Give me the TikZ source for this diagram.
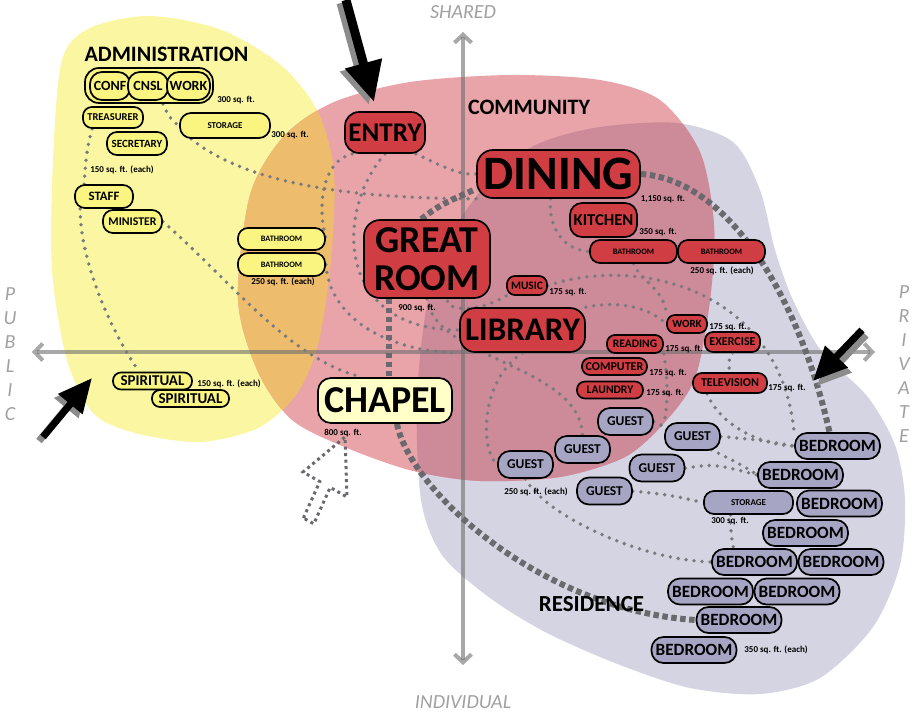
\documentclass[tikz,border=0pt]{standalone}
\usepackage{fontspec}
\setmainfont{Carlito}
\usetikzlibrary{arrows.meta}
\pgfdeclarelayer{bg}\pgfdeclarelayer{mid}\pgfsetlayers{bg,mid,main}
\newcommand\fsz[1]{\fontsize{#1}{#1}\selectfont}
\definecolor{yblob}{RGB}{250,246,162}
\definecolor{pblob}{RGB}{232,164,168}
\definecolor{oblob}{RGB}{237,188,108}
\definecolor{mblob}{RGB}{205,138,153}
\definecolor{gblob}{RGB}{212,212,226}
\definecolor{ynode}{RGB}{250,245,128}
\definecolor{cnode}{RGB}{255,255,200}
\definecolor{rnode}{RGB}{208,62,68}
\definecolor{gnode}{RGB}{166,166,196}
\definecolor{conn}{RGB}{122,122,126}
\definecolor{dconn}{RGB}{105,105,110}
\definecolor{axisc}{RGB}{160,160,160}
\definecolor{axline}{RGB}{110,110,110}
\definecolor{shad}{RGB}{140,140,140}
\newcommand\yelblob{plot[smooth cycle] coordinates {(62,60) (90,28) (150,16) (222,30) (282,66) (318,112) (334,172) (331,260) (318,345) (296,395) (258,428) (200,442) (135,433) (93,413) (67,360) (52,270) (53,160)}}
\newcommand\pinkblob{plot[smooth cycle] coordinates {(250,195) (284,136) (334,102) (410,82) (510,75) (600,80) (660,100) (700,152) (714,225) (710,300) (695,378) (665,422) (625,457) (560,477) (480,481) (413,471) (347,448) (292,420) (258,372) (238,300)}}
\newcommand\grayblob{plot[smooth cycle] coordinates {(497,172) (540,143) (600,127) (677,123) (733,142) (760,190) (775,250) (793,300) (822,352) (867,396) (895,445) (905,500) (900,565) (873,627) (820,678) (760,694) (690,688) (620,665) (547,633) (490,598) (442,555) (421,500) (417,400) (428,300) (455,228)}}
\tikzset{
 box/.style={draw=black, line width=1.7pt, inner sep=0pt, font=\bfseries},
 ybox/.style={box, fill=ynode},
 rbox/.style={box, fill=rnode},
 gbox/.style={box, fill=gnode},
 lbl/.style={inner sep=0pt, font=\bfseries\fsz{9}},
 biglbl/.style={inner sep=0pt, font=\bfseries\fsz{#1}},
 dotc/.style={draw=conn, line width=3.8pt, line cap=round, dash pattern=on 0pt off 8pt},
 dashc/.style={draw=dconn, line width=6pt, dash pattern=on 5.5pt off 3.5pt},
 darr/.style={draw=dconn, line width=3pt, dash pattern=on 3pt off 3.5pt},
 axlbl/.style={inner sep=0pt, text=axisc, font=\itshape\fsz{20}},
 axarrow/.style={draw=axline, opacity=0.6, line width=4pt, {Straight Barb[length=8pt,width=17pt]}-{Straight Barb[length=8pt,width=17pt]}},
}
\begin{document}
\begin{tikzpicture}[x=1pt,y=-1pt]
\useasboundingbox (0,0) rectangle (915,713);
% ---------- blobs ----------
\begin{pgfonlayer}{bg}
\fill[gblob] \grayblob;
\fill[yblob] \yelblob;
\fill[pblob] \pinkblob;
\begin{scope}
\clip \pinkblob;
\fill[oblob] \yelblob;
\fill[mblob] \grayblob;
\end{scope}
\coordinate (axT) at (463,32);
\coordinate (axB) at (463,665);
\coordinate (axL) at (32,352);
\coordinate (axR) at (875,352);
\draw[axarrow] (axB) -- (axT);
\draw[axarrow] (axL) -- (axR);
\end{pgfonlayer}
% ---------- axis labels ----------
\node[axlbl] (shared) at (463,12) {SHARED};
\node[axlbl] (indiv) at (463,702) {INDIVIDUAL};
\node[axlbl, align=center, font=\itshape\fontsize{20}{24}\selectfont] (public) at (10,354) {P\\U\\B\\L\\I\\C};
\node[axlbl, align=center, font=\itshape\fontsize{20}{24}\selectfont] (private) at (904,364) {P\\R\\I\\V\\A\\T\\E};
% ---------- administration ----------
\node[biglbl=22] (admin) at (166.5,54) {ADMINISTRATION};
\node[ybox, minimum width=128, minimum height=35, rounded corners=14] (comp) at (149,85.5) {};
\node[ybox, minimum width=40, minimum height=28, rounded corners=12, font=\bfseries\fsz{14}] (conf) at (110,86) {CONF};
\node[ybox, minimum width=40, minimum height=28, rounded corners=12, font=\bfseries\fsz{14}] (cnsl) at (148,86) {CNSL};
\node[ybox, minimum width=43, minimum height=28, rounded corners=12, font=\bfseries\fsz{14}] (awork) at (188.5,86) {WORK};
\node[ybox, minimum width=60, minimum height=21, rounded corners=9, font=\bfseries\fsz{10.5}] (treas) at (113,117.5) {TREASURER};
\node[ybox, minimum width=60, minimum height=23, rounded corners=10, font=\bfseries\fsz{11}] (secr) at (137,143.5) {SECRETARY};
\node[ybox, minimum width=90, minimum height=25, rounded corners=11, font=\bfseries\fsz{9}] (ystor) at (225,125.5) {STORAGE};
\node[ybox, minimum width=58, minimum height=23, rounded corners=10, font=\bfseries\fsz{12.8}] (staff) at (104,196.5) {STAFF};
\node[ybox, minimum width=59, minimum height=23, rounded corners=10, font=\bfseries\fsz{11.8}] (minis) at (132.5,221.5) {MINISTER};
\node[ybox, minimum width=87, minimum height=22, rounded corners=10, font=\bfseries\fsz{8.3}] (ybath1) at (281.5,239) {BATHROOM};
\node[ybox, minimum width=87, minimum height=23, rounded corners=10, font=\bfseries\fsz{8.3}] (ybath2) at (281.5,264.5) {BATHROOM};
\node[ybox, minimum width=79, minimum height=17, rounded corners=8, font=\bfseries\fsz{15}] (spir1) at (152.5,381) {SPIRITUAL};
\node[ybox, minimum width=77, minimum height=17, rounded corners=8, font=\bfseries\fsz{15}] (spir2) at (190.5,398.5) {SPIRITUAL};
\node[box, fill=cnode, minimum width=134, minimum height=45, rounded corners=13, font=\bfseries\fsz{38}] (chapel) at (385,400.5) {CHAPEL};
% ---------- community ----------
\node[rbox, minimum width=80, minimum height=41, rounded corners=14, font=\bfseries\fsz{27}] (entry) at (385,132.5) {ENTRY};
\node[biglbl=22] (commlbl) at (529,107.5) {COMMUNITY};
\node[rbox, minimum width=163, minimum height=48, rounded corners=16, font=\bfseries\fsz{48}] (dining) at (558.5,174) {DINING};
\node[rbox, minimum width=67, minimum height=34, rounded corners=12, font=\bfseries\fsz{16.6}] (kitchen) at (603.5,220) {KITCHEN};
\node[rbox, minimum width=87, minimum height=23, rounded corners=10, font=\bfseries\fsz{8.3}] (rbath1) at (633.5,251.5) {BATHROOM};
\node[rbox, minimum width=87, minimum height=23, rounded corners=10, font=\bfseries\fsz{8.3}] (rbath2) at (721.5,251.5) {BATHROOM};
\node[rbox, minimum width=126, minimum height=78, rounded corners=16, align=center, font=\bfseries\fontsize{38}{38}\selectfont] (great) at (427,259) {GREAT\\ROOM};
\node[rbox, minimum width=40, minimum height=19, rounded corners=8, font=\bfseries\fsz{11.4}] (music) at (527,285.5) {MUSIC};
\node[rbox, minimum width=125, minimum height=44, rounded corners=15, font=\bfseries\fsz{33}] (library) at (522.5,330) {LIBRARY};
\node[rbox, minimum width=40, minimum height=18, rounded corners=8, font=\bfseries\fsz{11}] (work) at (687,324) {WORK};
\node[rbox, minimum width=56, minimum height=18, rounded corners=8, font=\bfseries\fsz{11.5}] (reading) at (635,344) {READING};
\node[rbox, minimum width=55, minimum height=20, rounded corners=8, font=\bfseries\fsz{12}] (exercise) at (732.5,342) {EXERCISE};
\node[rbox, minimum width=65, minimum height=17, rounded corners=8, font=\bfseries\fsz{12}] (computer) at (614.5,366.5) {COMPUTER};
\node[rbox, minimum width=66, minimum height=17, rounded corners=8, font=\bfseries\fsz{11.6}] (laundry) at (610,390) {LAUNDRY};
\node[rbox, minimum width=74, minimum height=20, rounded corners=9, font=\bfseries\fsz{12}] (tv) at (730,383) {TELEVISION};
% ---------- residence ----------
\tikzset{guest/.style={gbox, minimum width=55, minimum height=27, rounded corners=12, font=\bfseries\fsz{13.5}},
 bed/.style={gbox, minimum width=85, minimum height=26, rounded corners=12, font=\bfseries\fsz{17.2}}}
\node[guest] (guest1) at (625.5,421.5) {GUEST};
\node[guest] (guest3) at (692.5,436.5) {GUEST};
\node[guest] (guest2) at (582.5,449.5) {GUEST};
\node[guest] (guest4) at (525.5,464.5) {GUEST};
\node[guest] (guest5) at (657,468) {GUEST};
\node[guest] (guest6) at (604.5,491) {GUEST};
\node[bed] (bed1) at (837.5,446) {BEDROOM};
\node[bed] (bed2) at (800.5,475) {BEDROOM};
\node[gbox, minimum width=89, minimum height=23, rounded corners=10, font=\bfseries\fsz{9}] (gstor) at (748.5,502.5) {STORAGE};
\node[bed] (bed3) at (839.5,503.5) {BEDROOM};
\node[bed] (bed4) at (805.5,533) {BEDROOM};
\node[bed] (bed5) at (754.5,562) {BEDROOM};
\node[bed] (bed6) at (841,562) {BEDROOM};
\node[bed] (bed7) at (710.5,591.5) {BEDROOM};
\node[bed] (bed8) at (797,591.5) {BEDROOM};
\node[bed] (bed9) at (739,620) {BEDROOM};
\node[bed] (bed10) at (694,650) {BEDROOM};
\node[biglbl=23] (reslbl) at (591.5,604.5) {RESIDENCE};
% ---------- area labels ----------
\node[lbl] (s1) at (236,100) {300 sq. ft.};
\node[lbl] (s2) at (290,135) {300 sq. ft.};
\node[lbl] (s3) at (122,170) {150 sq. ft. (each)};
\node[lbl] (s4) at (283,282) {250 sq. ft. (each)};
\node[lbl] (s5) at (229,384) {150 sq. ft. (each)};
\node[lbl] (s6) at (343,433) {800 sq. ft.};
\node[lbl] (s7) at (417,308) {900 sq. ft.};
\node[lbl] (s8) at (663,199) {1,150 sq. ft.};
\node[lbl] (s9) at (658,232) {350 sq. ft.};
\node[lbl] (s10) at (722,271) {250 sq. ft. (each)};
\node[lbl] (s11) at (568,292) {175 sq. ft.};
\node[lbl] (s12) at (728,327) {175 sq. ft.};
\node[lbl] (s13) at (684,349) {175 sq. ft.};
\node[lbl] (s14) at (668,373) {175 sq. ft.};
\node[lbl] (s15) at (665,393) {175 sq. ft.};
\node[lbl] (s16) at (787,388) {175 sq. ft.};
\node[lbl] (s17) at (536,492) {250 sq. ft. (each)};
\node[lbl] (s18) at (730,521) {300 sq. ft.};
\node[lbl] (s19) at (776,650) {350 sq. ft. (each)};
% ---------- connectors ----------
\begin{pgfonlayer}{mid}
\draw[dotc] ([xshift=14pt]comp.south) .. controls (166,112) and (172,122) .. (ystor.west);
\draw[dotc] ([xshift=12pt]ystor.south west) .. controls (260,195) and (400,198) .. (dining.south west);
\draw[dotc] ([xshift=-10pt]entry.south east) .. controls (440,165) and (460,176) .. (dining.west);
\draw[dotc] ([xshift=8pt]entry.south west) .. controls (325,160) and (316,200) .. (ybath1.east);
\draw[dotc] (ybath2.east) .. controls (330,320) and (390,352) .. (library.south west);
\draw[dotc] (entry.south) .. controls (335,210) and (335,330) .. (library.west);
\draw[dotc] ([xshift=10pt]treas.south west) .. controls (86,150) and (85,170) .. ([xshift=10pt]staff.north west);
\draw[dotc] ([xshift=6pt]staff.south west) .. controls (80,260) and (110,330) .. ([xshift=27pt]spir1.north west);
\draw[dotc] (minis.east) .. controls (230,280) and (290,360) .. ([xshift=45pt]chapel.north west);
\draw[dotc] (great.south) .. controls (435,360) and (580,365) .. (guest2.north);
\draw[dotc] (music.south west) .. controls (480,312) and (445,312) .. ([xshift=20pt]great.south);
\draw[dotc] (library.south) .. controls (480,380) and (480,450) .. (guest4.west);
\draw[dotc] ([xshift=-8pt]dining.south) .. controls (548,230) and (565,250) .. (rbath1.west);
\draw[dotc] (rbath1.south) .. controls (640,280) and (665,290) .. (work.north west);
\draw[dotc] (music.east) .. controls (640,255) and (780,290) .. (bed1.north west);
\draw[dotc] (library.north east) .. controls (620,300) and (650,308) .. (work.west);
\draw[dotc] (reading.south east) .. controls (668,380) and (668,405) .. (guest3.north west);
\draw[dotc] (exercise.south) .. controls (728,362) .. (tv.north);
\draw[dotc] ([xshift=15pt]tv.south west) .. controls (720,425) and (760,445) .. (bed1.west);
\draw[dotc] (guest3.east) .. controls (760,440) .. (bed1.west);
\draw[dotc] (guest1.east) .. controls (700,445) and (740,462) .. (bed2.west);
\draw[dotc] (guest5.east) .. controls (715,464) .. (bed2.west);
\draw[dotc] (guest6.east) .. controls (670,495) .. (gstor.west);
\draw[dotc] ([xshift=-18pt]gstor.south) .. controls (731,535) .. ([xshift=-21pt]bed5.north);
\draw[dotc] (guest4.south) .. controls (545,515) and (640,560) .. (bed5.west);
% thick dashed
\draw[dashc] ([xshift=58pt]great.north west) .. controls (440,205) .. ([yshift=10pt]dining.south west);
\draw[dashc] (dining.east) .. controls (730,180) and (800,300) .. ([xshift=-8pt]bed1.north);
\draw[dashc] ([xshift=26pt]great.south west) -- ([xshift=72pt]chapel.north west);
\draw[dashc] ([xshift=12pt]chapel.south) .. controls (410,490) and (540,610) .. (bed9.west);
% dotted outline arrow
\draw[darr] (303.4,518) -- (319.8,481.6) -- (303,472) -- (345,437) -- (347,497) -- (330.2,487.4) -- (313.8,523.8) -- cycle;
\end{pgfonlayer}
% ---------- black arrows ----------
\coordinate (a1t) at (346,0); \coordinate (a1h) at (374,102);
\coordinate (a1st) at (341,3); \coordinate (a1sh) at (369,105);
\draw[shad, line width=9pt, -{Triangle[length=40pt,width=36pt]}] (a1st) -- (a1sh);
\draw[black, line width=9pt, -{Triangle[length=40pt,width=36pt]}] (a1t) -- (a1h);
\coordinate (a2t) at (862,330); \coordinate (a2h) at (813,381);
\coordinate (a2st) at (866,335); \coordinate (a2sh) at (817,386);
\draw[shad, line width=7pt, -{Triangle[length=34pt,width=30pt]}] (a2st) -- (a2sh);
\draw[black, line width=7pt, -{Triangle[length=34pt,width=30pt]}] (a2t) -- (a2h);
\coordinate (a3t) at (43,437); \coordinate (a3h) at (92,378);
\coordinate (a3st) at (39,441); \coordinate (a3sh) at (88,382);
\draw[shad, line width=7pt, -{Triangle[length=34pt,width=30pt]}] (a3st) -- (a3sh);
\draw[black, line width=7pt, -{Triangle[length=34pt,width=30pt]}] (a3t) -- (a3h);
\end{tikzpicture}
\end{document}
